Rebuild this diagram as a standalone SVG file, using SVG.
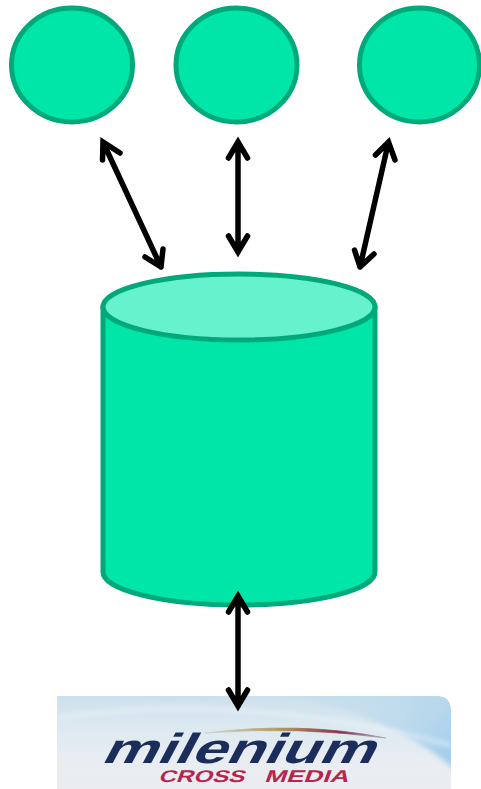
<svg xmlns="http://www.w3.org/2000/svg" width="481" height="789" viewBox="0 0 481 789">
<style>
.n{fill:#00e5a8;stroke:#00a97a;stroke-width:5}
.t{fill:#66f2cc;stroke:#00a97a;stroke-width:5}
.c{fill:none;stroke:#000;stroke-width:5.500;stroke-linecap:round;stroke-linejoin:miter;stroke-miterlimit:8}
.f{font-family:"Liberation Sans",Arial,sans-serif}
</style>
<defs>
<linearGradient id="bg" x1="0" y1="0" x2="0" y2="1">
<stop offset="0" stop-color="#cbe0ec"/><stop offset=".35" stop-color="#dde9f1"/><stop offset=".7" stop-color="#e9edf1"/><stop offset="1" stop-color="#eaecef"/>
</linearGradient>
<linearGradient id="side" x1="0" y1="0" x2="1" y2="0.6">
<stop offset="0" stop-color="#b5d6ea" stop-opacity="0"/><stop offset=".5" stop-color="#b5d6ea" stop-opacity=".45"/><stop offset="1" stop-color="#a5cfec"/>
</linearGradient>
<linearGradient id="arc" x1="0" y1="0" x2="1" y2="0">
<stop offset="0" stop-color="#c9d6d0"/><stop offset=".4" stop-color="#b39b5c"/><stop offset=".75" stop-color="#8a3350"/><stop offset="1" stop-color="#a8b0c4"/>
</linearGradient>
<filter id="soft" x="-10%" y="-50%" width="120%" height="200%"><feGaussianBlur stdDeviation="2.500"/></filter>
<clipPath id="logo"><path d="M57 696H436Q451 696 451 711V789H57Z"/></clipPath>
</defs>
<g id="node-left"><ellipse class="n" cx="72" cy="65" rx="60.500" ry="57"/></g>
<g id="node-center"><ellipse class="n" cx="236.500" cy="65" rx="60.500" ry="57"/></g>
<g id="node-right"><ellipse class="n" cx="419.500" cy="65" rx="60" ry="57"/></g>
<g id="node-database">
<path class="n" d="M103 307V572A136 33 0 0 0 375 572V307Z"/>
<ellipse class="t" cx="239" cy="307" rx="136" ry="33"/>
</g>
<g id="node-logo">
<path d="M57 696H436Q451 696 451 711V789H57Z" fill="url(#bg)"/>
<g clip-path="url(#logo)">
<path d="M260 690H460V775Q400 715 260 690Z" fill="url(#side)" filter="url(#soft)"/>
<path d="M57 718Q240 690 451 745" fill="none" stroke="#eef4f8" stroke-width="5" opacity=".5" filter="url(#soft)"/>
</g>
<path d="M205 733Q300 721 386 738Q300 726 205 733Z" fill="url(#arc)" stroke="url(#arc)" stroke-width=".8"/>
<text class="f" transform="translate(100 763) skewX(-28)" font-size="42" font-weight="700" fill="#1b2d5a" textLength="272" lengthAdjust="spacingAndGlyphs">milenium</text>
<text class="f" transform="translate(158 782) skewX(-20)" font-size="17" font-weight="700" fill="#b5264f" textLength="86" lengthAdjust="spacingAndGlyphs">CROSS</text>
<text class="f" transform="translate(264 782) skewX(-20)" font-size="17" font-weight="700" fill="#b5264f" textLength="84" lengthAdjust="spacingAndGlyphs">MEDIA</text>
</g>
<g id="connectors">
<path class="c" d="M103 142L161 267M102.500 160L103 142L120 153M161 267L163 249M161 267L145 257"/>
<path class="c" d="M238 142V252M228.500 158L238 142L247.500 158M228.500 236L238 252L247.500 236"/>
<path class="c" d="M388.500 142L360 267M375.500 155L388.500 142L395 160M360 267L354.500 250M360 267L374 254"/>
<path class="c" d="M238 596V706M228.500 612L238 596L247.500 612M228.500 690L238 706L247.500 690"/>
</g>
</svg>
